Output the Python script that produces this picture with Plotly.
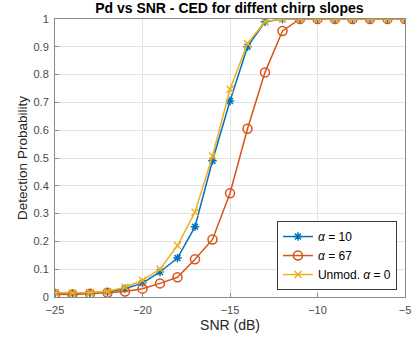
import plotly.graph_objects as go

snr = [-25, -24, -23, -22, -21, -20, -19, -18, -17, -16, -15, -14, -13, -12, -11, -10, -9, -8, -7, -6, -5]
pd_a10 = [0.015, 0.013, 0.015, 0.018, 0.03, 0.05, 0.09, 0.14, 0.253, 0.49, 0.705, 0.90, 0.99, 1, 1, 1, 1, 1, 1, 1, 1]
pd_a67 = [0.01, 0.009, 0.012, 0.015, 0.02, 0.03, 0.049, 0.071, 0.136, 0.207, 0.373, 0.605, 0.808, 0.957, 1, 1, 1, 1, 1, 1, 1]
pd_a0 = [0.015, 0.014, 0.016, 0.02, 0.035, 0.06, 0.10, 0.185, 0.305, 0.507, 0.747, 0.912, 0.99, 1, 1, 1, 1, 1, 1, 1, 1]

labels = ["<i>α</i> = 10", "<i>α</i> = 67", "Unmod. <i>α</i> = 0"]
colors = ["#0072BD", "#D95319", "#EDB120"]
FONT = "Liberation Sans, Arial, sans-serif"

fig = go.Figure()
fig.add_trace(go.Scatter(x=snr, y=pd_a10, mode="lines+markers", name=labels[0],
                         line=dict(color=colors[0], width=1.5),
                         marker=dict(symbol="asterisk-open", size=7, color=colors[0],
                                     line=dict(color=colors[0], width=1.5))))
fig.add_trace(go.Scatter(x=snr, y=pd_a67, mode="lines+markers", name=labels[1],
                         line=dict(color=colors[1], width=1.5),
                         marker=dict(symbol="circle-open", size=9, color=colors[1],
                                     line=dict(color=colors[1], width=1.5))))
fig.add_trace(go.Scatter(x=snr, y=pd_a0, mode="lines+markers", name=labels[2],
                         line=dict(color=colors[2], width=1.5),
                         marker=dict(symbol="x-thin-open", size=7, color=colors[2],
                                     line=dict(color=colors[2], width=1.5))))

axis_common = dict(showline=True, mirror=True, linecolor="#8a8a8a", linewidth=1,
                   ticks="inside", ticklen=4, tickcolor="#8a8a8a", automargin=False,
                   showgrid=True, gridcolor="#e3e3e3", gridwidth=1, zeroline=False,
                   tickfont=dict(family=FONT, size=11, color="#4a4a4a"))

fig.update_xaxes(range=[-25, -5], tickvals=[-25, -20, -15, -10, -5],
                 ticklabelstandoff=3,
                 title=dict(text="SNR (dB)", font=dict(family=FONT, size=14, color="#262626"), standoff=4),
                 **axis_common)
fig.update_yaxes(range=[0, 1], tickvals=[0, 0.1, 0.2, 0.3, 0.4, 0.5, 0.6, 0.7, 0.8, 0.9, 1],
                 ticktext=["0", "0.1", "0.2", "0.3", "0.4", "0.5", "0.6", "0.7", "0.8", "0.9", "1"],
                 ticklabelstandoff=3,
                 title=dict(text="Detection Probability", font=dict(family=FONT, size=13.5, color="#262626"), standoff=2),
                 **axis_common)

fig.update_layout(
    width=417, height=338,
    margin=dict(l=55, r=12, t=19, b=41),
    paper_bgcolor="white", plot_bgcolor="white",
    title=dict(text="<b>Pd vs SNR - CED for diffent chirp slopes</b>", x=0.55, xanchor="center",
               y=0.99, yanchor="top",
               font=dict(family=FONT, size=14, color="#000000")),
    legend=dict(x=0.977, xanchor="right", y=0.025, yanchor="bottom",
                bgcolor="white", bordercolor="#3a3a3a", borderwidth=1,
                font=dict(family=FONT, size=12, color="#000000"),
                itemwidth=30, tracegroupgap=0),
    showlegend=True,
)

fig.write_html("out.html")
